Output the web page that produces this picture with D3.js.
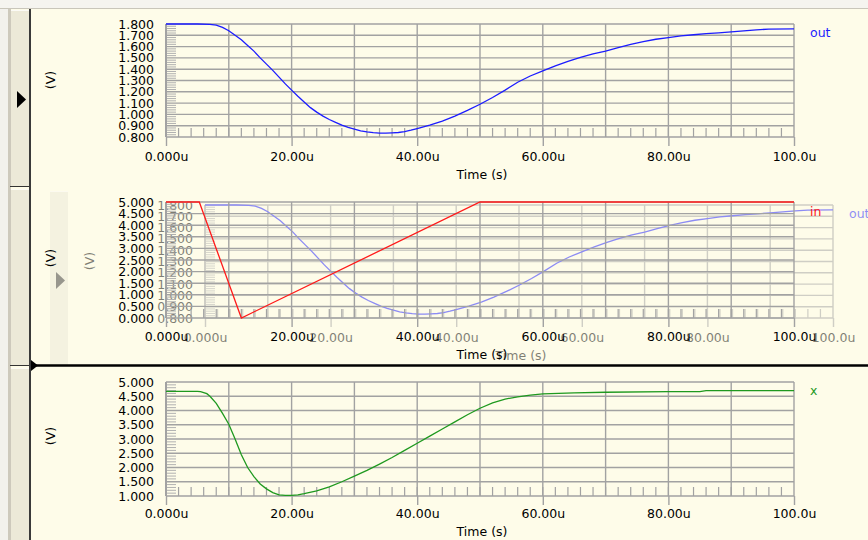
<!DOCTYPE html>
<html>
<head>
<meta charset="utf-8">
<script src="https://cdn.jsdelivr.net/npm/d3@7"></script>
<style>
  body { margin: 0; background: #fefce9; }
  svg { display: block; }
  text { font-family: 'DejaVu Sans', Tahoma, sans-serif; font-size: 12.5px; }
</style>
</head>
<body>
<script>
// ---- data (time in microseconds) ----
var timeTicks = [0, 20, 40, 60, 80, 100]
var timeLabels = ['0.000u', '20.00u', '40.00u', '60.00u', '80.00u', '100.0u']
var gridTimes = [0, 10, 20, 30, 40, 50, 60, 70, 80, 90, 100]

var outTicks = [0.8, 0.9, 1.0, 1.1, 1.2, 1.3, 1.4, 1.5, 1.6, 1.7, 1.8]
var inTicks = [0, 0.5, 1, 1.5, 2, 2.5, 3, 3.5, 4, 4.5, 5]
var xTicks = [1, 1.5, 2, 2.5, 3, 3.5, 4, 4.5, 5]

var outT = [0, 5, 7, 8, 9, 10, 11, 12, 13, 14, 15, 16, 17, 18, 19, 20, 21, 22, 23, 24, 25, 26, 27, 28, 29, 30,
  31, 32, 33, 34, 35, 36, 37, 38, 39, 40, 42, 44, 46, 48, 50, 52, 54, 56, 58, 60, 62, 64, 66, 68, 70,
  72, 74, 76, 78, 80, 82, 84, 86, 88, 90, 92, 94, 96, 100]
var outV = [1.8, 1.8, 1.797, 1.79, 1.77, 1.74, 1.70, 1.66, 1.61, 1.56, 1.50, 1.445, 1.39, 1.33, 1.27, 1.215,
  1.16, 1.11, 1.06, 1.02, 0.985, 0.955, 0.93, 0.905, 0.885, 0.87, 0.855, 0.845, 0.838, 0.835, 0.835,
  0.837, 0.84, 0.848, 0.86, 0.875, 0.905, 0.94, 0.985, 1.035, 1.09, 1.15, 1.215, 1.285, 1.34, 1.385,
  1.43, 1.47, 1.505, 1.535, 1.56, 1.59, 1.62, 1.645, 1.665, 1.68, 1.695, 1.705, 1.715, 1.722, 1.73,
  1.74, 1.748, 1.755, 1.757]

var inT = [0, 5.3, 12, 50, 100]
var inV = [5, 5, 0, 5, 5]

var xT = [0, 5, 5.5, 6, 6.5, 7, 8, 9, 10, 11, 12, 13, 14, 15, 16, 17, 18, 19, 20, 21, 22, 24, 26, 28, 30,
  32, 34, 36, 38, 40, 42, 44, 46, 48, 50, 52, 54, 56, 58, 60, 65, 70, 80, 85, 86, 100]
var xV = [4.67, 4.67, 4.66, 4.63, 4.59, 4.5, 4.25, 3.9, 3.52, 3.0, 2.45, 2.0, 1.68, 1.42, 1.25, 1.12, 1.04,
  1.02, 1.02, 1.04, 1.08, 1.18, 1.32, 1.5, 1.7, 1.9, 2.12, 2.35, 2.6, 2.85, 3.1, 3.35, 3.6, 3.85, 4.08,
  4.27, 4.4, 4.48, 4.54, 4.58, 4.62, 4.64, 4.66, 4.66, 4.70, 4.70]

var W = 868, H = 540
var gridColor = '#a2a2a2'

var svg = d3.select('body').append('svg')
    .attr('width', W)
    .attr('height', H)

// window chrome: top strip, left strip, buttons
svg.append('rect').attr('x', 0).attr('y', 0).attr('width', W).attr('height', 8).attr('fill', '#f5f4ef')
svg.append('line').attr('x1', 0).attr('x2', W).attr('y1', 8.5).attr('y2', 8.5).attr('stroke', '#c9c6ba')
svg.append('rect').attr('x', 0).attr('y', 9).attr('width', 8).attr('height', H).attr('fill', '#f2f1ec')
svg.append('rect').attr('x', 8).attr('y', 9).attr('width', 3).attr('height', H).attr('fill', '#cdc9bc')

function button(g, y0, y1, tri) {
    g.append('rect').attr('x', 11).attr('y', y0).attr('width', 18).attr('height', y1 - y0).attr('fill', '#ece9d8')
    g.append('line').attr('x1', 11).attr('x2', 29).attr('y1', y0 + 0.5).attr('y2', y0 + 0.5).attr('stroke', '#fbfaf5')
    g.append('line').attr('x1', 10).attr('x2', 30).attr('y1', y1 - 0.5).attr('y2', y1 - 0.5).attr('stroke', '#333')
    if (tri) g.append('path').attr('d', 'M17,91 L26,99.5 L17,108 Z').attr('fill', tri)
}
button(svg, 10, 187, '#000')
button(svg, 189, 366, null)
button(svg, 368, H + 2, null)
svg.append('line').attr('x1', 30).attr('x2', 30).attr('y1', 9).attr('y2', H).attr('stroke', '#3a3a3a').attr('stroke-width', 2)

// draws one waveform panel
function drawPanel(g, p) {
    var x = d3.scaleLinear().domain([0, 100]).range([166, 794])
    var y = d3.scaleLinear().domain([p.ticks[0], p.ticks[p.ticks.length - 1]]).range([p.yBot, p.yTop])

    // minor y ticks on the left edge
    var minorY = []
    for (var i = 0; i < p.ticks.length - 1; i++) {
        for (var k = 1; k < 5; k++) minorY.push(p.ticks[i] + k * (p.ticks[i + 1] - p.ticks[i]) / 5)
    }
    g.selectAll('.minY').data(minorY).enter().append('line')
        .attr('x1', 166).attr('x2', 176)
        .attr('y1', function(d){ return y(d) }).attr('y2', function(d){ return y(d) })
        .attr('stroke', '#b0b0b0').attr('stroke-width', 1)

    // grid
    g.selectAll('.hgrid').data(p.ticks).enter().append('line')
        .attr('x1', 166).attr('x2', 794)
        .attr('y1', function(d){ return y(d) }).attr('y2', function(d){ return y(d) })
        .attr('stroke', gridColor).attr('stroke-width', 1.4)
    g.selectAll('.vgrid').data(gridTimes).enter().append('line')
        .attr('x1', function(d){ return x(d) }).attr('x2', function(d){ return x(d) })
        .attr('y1', p.yTop).attr('y2', p.yBot)
        .attr('stroke', gridColor).attr('stroke-width', function(d){ return d === 0 ? 2 : 1.4 })

    // minor x ticks, every 2u
    g.selectAll('.minX').data(d3.range(2, 100, 2)).enter().append('line')
        .attr('x1', function(d){ return x(d) }).attr('x2', function(d){ return x(d) })
        .attr('y1', p.yBot - 9).attr('y2', p.yBot)
        .attr('stroke', gridColor).attr('stroke-width', 1.2)

    // y axis labels
    var yAx = g.append('g')
        .attr('transform', 'translate(166,0)')
        .call(d3.axisLeft(y).tickValues(p.ticks).tickFormat(d3.format('.3f')).tickSize(0).tickPadding(12))
    yAx.select('.domain').remove()
    yAx.selectAll('text').attr('fill', '#000').style('font-family', null).style('font-size', null).attr('font-family', null).attr('font-size', null)

    // x axis with labels
    var xAx = g.append('g')
        .attr('transform', 'translate(0,' + p.yBot + ')')
        .call(d3.axisBottom(x).tickValues(timeTicks).tickFormat(function(d, i){ return timeLabels[i] })
            .tickSize(9).tickPadding(p.xPad))
    xAx.select('.domain').remove()
    xAx.selectAll('line').attr('stroke', gridColor).attr('stroke-width', 1.4)
    xAx.selectAll('text').attr('fill', '#000').attr('font-family', null).attr('font-size', null)
    g.selectAll('.tick text').attr('font-family', null).attr('font-size', null)

    g.append('text').attr('x', 482).attr('y', p.titleY).attr('text-anchor', 'middle').text('Time (s)')
    g.append('text')
        .attr('transform', 'translate(51,' + p.vY + ') rotate(-90)')
        .attr('text-anchor', 'middle').attr('dy', '0.35em').text('(V)')

    // waveform
    var line = d3.line().x(function(d){ return x(d[0]) }).y(function(d){ return y(d[1]) })
    g.append('path')
        .datum(d3.zip(p.t, p.v))
        .attr('d', line)
        .attr('fill', 'none').attr('stroke', p.color).attr('stroke-width', 1.3)
    g.append('text').attr('x', 810).attr('y', p.labelY).attr('fill', p.color).text(p.name)
}

var topPanel = {ticks: outTicks, yTop: 24, yBot: 137, xPad: 6, titleY: 179, vY: 80,
    t: outT, v: outV, color: '#1c1cff', name: 'out', labelY: 37}
var midPanel = {ticks: inTicks, yTop: 202, yBot: 318, xPad: 5, titleY: 359, vY: 258,
    t: inT, v: inV, color: '#ff1a1a', name: 'in', labelY: 216}
var botPanel = {ticks: xTicks, yTop: 382, yBot: 496, xPad: 4, titleY: 536, vY: 436,
    t: xT, v: xV, color: '#1f991f', name: 'x', labelY: 395}

drawPanel(svg.append('g'), topPanel)

// dragged copy of the top panel, drawn faded over the middle one
svg.append('clipPath').attr('id', 'ghostClip')
    .append('rect').attr('x', 31).attr('y', 189).attr('width', W).attr('height', 176)
var ghost = svg.append('g').attr('clip-path', 'url(#ghostClip)')
    .append('g').attr('transform', 'translate(39,181)').attr('opacity', 0.5)
button(ghost, 10, 190, '#333')
drawPanel(ghost, topPanel)

drawPanel(svg.append('g'), midPanel)
drawPanel(svg.append('g'), botPanel)

// drop marker line
svg.append('line').attr('x1', 31).attr('x2', W).attr('y1', 365.5).attr('y2', 365.5)
    .attr('stroke', '#000').attr('stroke-width', 2.5)
svg.append('path').attr('d', 'M31,360 L38,365.5 L31,371 Z').attr('fill', '#000')
</script>
</body>
</html>
